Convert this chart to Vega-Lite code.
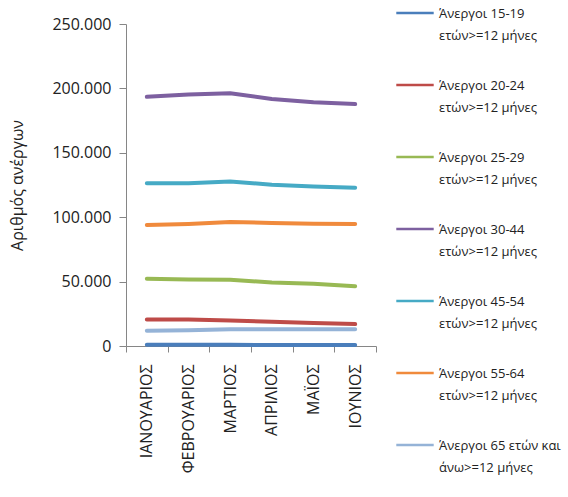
{
  "$schema": "https://vega.github.io/schema/vega-lite/v6.json",
  "width": 250,
  "height": 322,
  "autosize": "none",
  "padding": {"left": 126, "top": 24, "right": 192, "bottom": 151},
  "background": "white",
  "config": {
    "view": {"stroke": null},
    "font": "Open Sans",
    "locale": {"number": {"decimal": ",", "thousands": ".", "grouping": [3], "currency": ["", "€"]}}
  },
  "data": {
    "values": [
      {"month": "ΙΑΝΟΥΑΡΙΟΣ", "series": "Άνεργοι 15-19 ετών>=12 μήνες", "value": 900},
      {"month": "ΦΕΒΡΟΥΑΡΙΟΣ", "series": "Άνεργοι 15-19 ετών>=12 μήνες", "value": 900},
      {"month": "ΜΑΡΤΙΟΣ", "series": "Άνεργοι 15-19 ετών>=12 μήνες", "value": 900},
      {"month": "ΑΠΡΙΛΙΟΣ", "series": "Άνεργοι 15-19 ετών>=12 μήνες", "value": 850},
      {"month": "ΜΑΪΟΣ", "series": "Άνεργοι 15-19 ετών>=12 μήνες", "value": 850},
      {"month": "ΙΟΥΝΙΟΣ", "series": "Άνεργοι 15-19 ετών>=12 μήνες", "value": 800},
      {"month": "ΙΑΝΟΥΑΡΙΟΣ", "series": "Άνεργοι 20-24 ετών>=12 μήνες", "value": 20500},
      {"month": "ΦΕΒΡΟΥΑΡΙΟΣ", "series": "Άνεργοι 20-24 ετών>=12 μήνες", "value": 20500},
      {"month": "ΜΑΡΤΙΟΣ", "series": "Άνεργοι 20-24 ετών>=12 μήνες", "value": 19800},
      {"month": "ΑΠΡΙΛΙΟΣ", "series": "Άνεργοι 20-24 ετών>=12 μήνες", "value": 18900},
      {"month": "ΜΑΪΟΣ", "series": "Άνεργοι 20-24 ετών>=12 μήνες", "value": 17900},
      {"month": "ΙΟΥΝΙΟΣ", "series": "Άνεργοι 20-24 ετών>=12 μήνες", "value": 17000},
      {"month": "ΙΑΝΟΥΑΡΙΟΣ", "series": "Άνεργοι 25-29 ετών>=12 μήνες", "value": 52200},
      {"month": "ΦΕΒΡΟΥΑΡΙΟΣ", "series": "Άνεργοι 25-29 ετών>=12 μήνες", "value": 51600},
      {"month": "ΜΑΡΤΙΟΣ", "series": "Άνεργοι 25-29 ετών>=12 μήνες", "value": 51500},
      {"month": "ΑΠΡΙΛΙΟΣ", "series": "Άνεργοι 25-29 ετών>=12 μήνες", "value": 49300},
      {"month": "ΜΑΪΟΣ", "series": "Άνεργοι 25-29 ετών>=12 μήνες", "value": 48400},
      {"month": "ΙΟΥΝΙΟΣ", "series": "Άνεργοι 25-29 ετών>=12 μήνες", "value": 46400},
      {"month": "ΙΑΝΟΥΑΡΙΟΣ", "series": "Άνεργοι 30-44 ετών>=12 μήνες", "value": 193500},
      {"month": "ΦΕΒΡΟΥΑΡΙΟΣ", "series": "Άνεργοι 30-44 ετών>=12 μήνες", "value": 195200},
      {"month": "ΜΑΡΤΙΟΣ", "series": "Άνεργοι 30-44 ετών>=12 μήνες", "value": 196200},
      {"month": "ΑΠΡΙΛΙΟΣ", "series": "Άνεργοι 30-44 ετών>=12 μήνες", "value": 191800},
      {"month": "ΜΑΪΟΣ", "series": "Άνεργοι 30-44 ετών>=12 μήνες", "value": 189300},
      {"month": "ΙΟΥΝΙΟΣ", "series": "Άνεργοι 30-44 ετών>=12 μήνες", "value": 187800},
      {"month": "ΙΑΝΟΥΑΡΙΟΣ", "series": "Άνεργοι 45-54 ετών>=12 μήνες", "value": 126300},
      {"month": "ΦΕΒΡΟΥΑΡΙΟΣ", "series": "Άνεργοι 45-54 ετών>=12 μήνες", "value": 126400},
      {"month": "ΜΑΡΤΙΟΣ", "series": "Άνεργοι 45-54 ετών>=12 μήνες", "value": 127800},
      {"month": "ΑΠΡΙΛΙΟΣ", "series": "Άνεργοι 45-54 ετών>=12 μήνες", "value": 125200},
      {"month": "ΜΑΪΟΣ", "series": "Άνεργοι 45-54 ετών>=12 μήνες", "value": 123800},
      {"month": "ΙΟΥΝΙΟΣ", "series": "Άνεργοι 45-54 ετών>=12 μήνες", "value": 122900},
      {"month": "ΙΑΝΟΥΑΡΙΟΣ", "series": "Άνεργοι 55-64 ετών>=12 μήνες", "value": 94000},
      {"month": "ΦΕΒΡΟΥΑΡΙΟΣ", "series": "Άνεργοι 55-64 ετών>=12 μήνες", "value": 94800},
      {"month": "ΜΑΡΤΙΟΣ", "series": "Άνεργοι 55-64 ετών>=12 μήνες", "value": 96300},
      {"month": "ΑΠΡΙΛΙΟΣ", "series": "Άνεργοι 55-64 ετών>=12 μήνες", "value": 95500},
      {"month": "ΜΑΪΟΣ", "series": "Άνεργοι 55-64 ετών>=12 μήνες", "value": 94900},
      {"month": "ΙΟΥΝΙΟΣ", "series": "Άνεργοι 55-64 ετών>=12 μήνες", "value": 94800},
      {"month": "ΙΑΝΟΥΑΡΙΟΣ", "series": "Άνεργοι 65 ετών και άνω>=12 μήνες", "value": 11900},
      {"month": "ΦΕΒΡΟΥΑΡΙΟΣ", "series": "Άνεργοι 65 ετών και άνω>=12 μήνες", "value": 12200},
      {"month": "ΜΑΡΤΙΟΣ", "series": "Άνεργοι 65 ετών και άνω>=12 μήνες", "value": 13100},
      {"month": "ΑΠΡΙΛΙΟΣ", "series": "Άνεργοι 65 ετών και άνω>=12 μήνες", "value": 13100},
      {"month": "ΜΑΪΟΣ", "series": "Άνεργοι 65 ετών και άνω>=12 μήνες", "value": 13000},
      {"month": "ΙΟΥΝΙΟΣ", "series": "Άνεργοι 65 ετών και άνω>=12 μήνες", "value": 13100}
    ]
  },
  "mark": {"type": "line", "strokeWidth": 4, "strokeCap": "round", "strokeJoin": "round"},
  "encoding": {
    "x": {
      "field": "month",
      "type": "nominal",
      "sort": null,
      "scale": {"type": "band", "paddingInner": 0, "paddingOuter": 0},
      "axis": {
        "title": null,
        "labelAngle": -90,
        "labelAlign": "right",
        "labelBaseline": "middle",
        "labelFontSize": 16,
        "labelColor": "#222",
        "labelPadding": 12,
        "tickBand": "extent",
        "tickSize": 6,
        "tickColor": "#868686",
        "domainColor": "#868686",
        "labelOverlap": false
      }
    },
    "y": {
      "field": "value",
      "type": "quantitative",
      "scale": {"domain": [0, 250000], "nice": false},
      "axis": {
        "title": "Αριθμός ανέργων",
        "titleFontSize": 16,
        "titleFontWeight": "normal",
        "titleColor": "#222",
        "titleX": -101,
        "values": [0, 50000, 100000, 150000, 200000, 250000],
        "format": ",.0f",
        "labelFontSize": 16,
        "labelColor": "#222",
        "labelPadding": 8,
        "tickSize": 7,
        "tickColor": "#868686",
        "domainColor": "#868686",
        "grid": false
      }
    },
    "color": {
      "field": "series",
      "type": "nominal",
      "scale": {
        "domain": [
          "Άνεργοι 15-19 ετών>=12 μήνες",
          "Άνεργοι 20-24 ετών>=12 μήνες",
          "Άνεργοι 25-29 ετών>=12 μήνες",
          "Άνεργοι 30-44 ετών>=12 μήνες",
          "Άνεργοι 45-54 ετών>=12 μήνες",
          "Άνεργοι 55-64 ετών>=12 μήνες",
          "Άνεργοι 65 ετών και άνω>=12 μήνες"
        ],
        "range": ["#4a7ebb", "#be4b48", "#98b954", "#7d60a0", "#46aac5", "#f08a3c", "#95b3d7"]
      },
      "legend": {
        "title": null,
        "orient": "none",
        "legendX": 269,
        "legendY": -31,
        "symbolType": "stroke",
        "symbolSize": 1400,
        "symbolStrokeWidth": 2.5,
        "labelFontSize": 13,
        "labelColor": "#222",
        "labelLimit": 300,
        "labelBaseline": "alphabetic",
        "labelOffset": 4,
        "rowPadding": 22,
        "labelExpr": "indexof(datum.label, '65 ετών') >= 0 ? ['Άνεργοι 65 ετών και', 'άνω>=12 μήνες'] : [substring(datum.label, 0, 13), substring(datum.label, 14)]",
        "encode": {
          "labels": {"update": {"lineHeight": {"value": 22}, "dy": {"value": 5}}}
        }
      }
    }
  }
}
